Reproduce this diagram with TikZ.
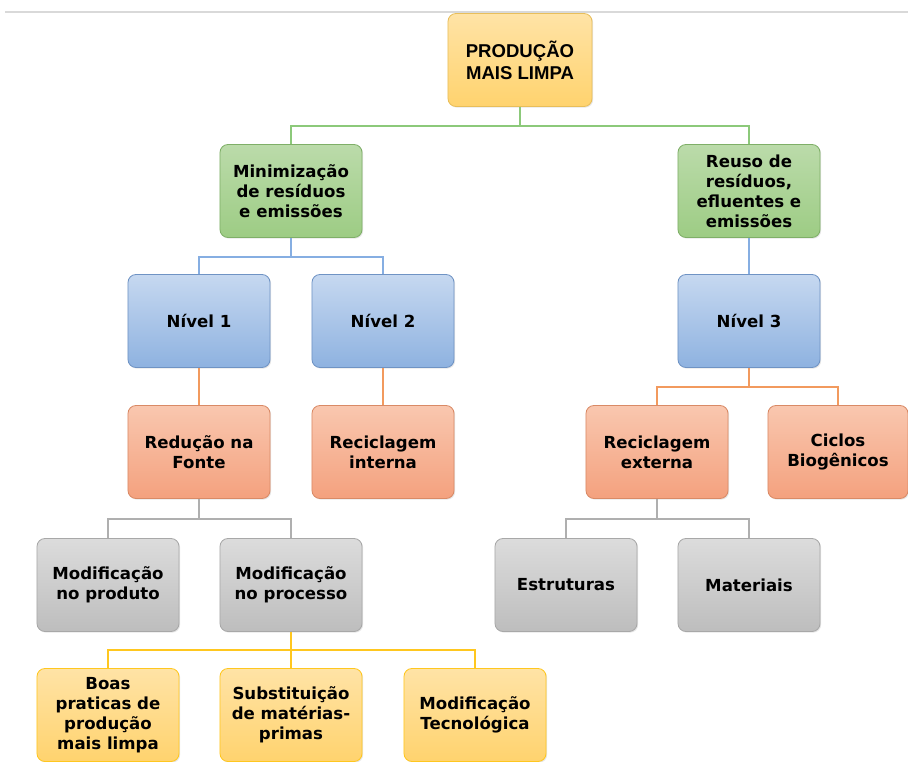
\documentclass[tikz,border=0pt]{standalone}
\usepackage{fontspec}
\setmainfont{DejaVu Sans}
\newfontfamily\headfont{Liberation Sans}
\usetikzlibrary{shadows}

\definecolor{ytop}{HTML}{FFE3A6}
\definecolor{ybot}{HTML}{FFD36E}
\definecolor{yedge}{HTML}{E8BE5A}
\definecolor{gtop}{HTML}{BBDBAA}
\definecolor{gbot}{HTML}{9DCC84}
\definecolor{gedge}{HTML}{7FAF68}
\definecolor{btop}{HTML}{C6D8F0}
\definecolor{bbot}{HTML}{8EB2E0}
\definecolor{bedge}{HTML}{6F93C4}
\definecolor{otop}{HTML}{F9C7AF}
\definecolor{obot}{HTML}{F4A17E}
\definecolor{oedge}{HTML}{D98A66}
\definecolor{stop}{HTML}{DCDCDC}
\definecolor{sbot}{HTML}{BDBDBD}
\definecolor{sedge}{HTML}{A8A8A8}
\definecolor{glinecol}{HTML}{8CC97A}
\definecolor{blinecol}{HTML}{86AEE2}
\definecolor{olinecol}{HTML}{F29A5E}
\definecolor{slinecol}{HTML}{AFAFAF}
\definecolor{ylinecol}{HTML}{FFC71F}

\tikzset{
	cbox/.style={rectangle, rounded corners=0.2cm, minimum width=3.55cm, minimum height=2.325cm,
		align=center, font=\bfseries\fontsize{11.8}{14.2}\selectfont, line width=0.6pt,
		drop shadow={opacity=0.2, shadow xshift=0.8pt, shadow yshift=-0.8pt}},
	yellowbox/.style={cbox, draw=yedge, top color=ytop, bottom color=ybot},
	greenbox/.style={cbox, draw=gedge, top color=gtop, bottom color=gbot},
	bluebox/.style={cbox, draw=bedge, top color=btop, bottom color=bbot},
	orangebox/.style={cbox, draw=oedge, top color=otop, bottom color=obot},
	graybox/.style={cbox, draw=sedge, top color=stop, bottom color=sbot},
	gline/.style={draw=glinecol, line width=1pt},
	bline/.style={draw=blinecol, line width=1pt},
	oline/.style={draw=olinecol, line width=1pt},
	sline/.style={draw=slinecol, line width=1pt},
	yline/.style={draw=ylinecol, line width=1pt},
}

\begin{document}
\begin{tikzpicture}[x=0.025cm,y=-0.025cm]
	\useasboundingbox (0,0) rectangle (908,762);
	\draw[line width=1.5pt, color=black!15] (5,12) -- (908,12);

	% level 0
	\node[yellowbox, minimum width=3.6cm, font=\headfont\bfseries\fontsize{13.2}{15.5}\selectfont] (prod) at (520,60) {PRODUÇÃO\\MAIS LIMPA};

	% level 1
	\node[greenbox] (minim) at (291,191) {Minimização\\de resíduos\\e emissões};
	\node[greenbox] (reuso) at (749,191) {Reuso de\\resíduos,\\efluentes e\\emissões};

	% level 2
	\node[bluebox] (niv1) at (199,321) {Nível 1};
	\node[bluebox] (niv2) at (383,321) {Nível 2};
	\node[bluebox] (niv3) at (749,321) {Nível 3};

	% level 3
	\node[orangebox] (reducao) at (199,452) {Redução na\\Fonte};
	\node[orangebox] (recint) at (383,452) {Reciclagem\\interna};
	\node[orangebox] (recext) at (657,452) {Reciclagem\\externa};
	\node[orangebox, minimum width=3.5cm] (ciclos) at (838,452) {Ciclos\\Biogênicos};

	% level 4
	\node[graybox] (modprod) at (108,585) {Modificação\\no produto};
	\node[graybox] (modproc) at (291,585) {Modificação\\no processo};
	\node[graybox] (estrut) at (566,585) {Estruturas};
	\node[graybox] (mater) at (749,585) {Materiais};

	% level 5
	\node[yellowbox, draw=ylinecol] (boas) at (108,715) {Boas\\praticas de\\produção\\mais limpa};
	\node[yellowbox, draw=ylinecol] (subst) at (291,715) {Substituição\\de matérias-\\primas};
	\node[yellowbox, draw=ylinecol] (modtec) at (475,715) {Modificação\\Tecnológica};

	% connectors
	\draw[gline] (prod.south) -- ++(0,19) -| (minim.north);
	\draw[gline] (prod.south) -- ++(0,19) -| (reuso.north);
	\draw[bline] (minim.south) -- ++(0,19) -| (niv1.north);
	\draw[bline] (minim.south) -- ++(0,19) -| (niv2.north);
	\draw[bline] (reuso.south) -- (niv3.north);
	\draw[oline] (niv1.south) -- (reducao.north);
	\draw[oline] (niv2.south) -- (recint.north);
	\draw[oline] (niv3.south) -- ++(0,19) -| (recext.north);
	\draw[oline] (niv3.south) -- ++(0,19) -| (ciclos.north);
	\draw[sline] (reducao.south) -- ++(0,20) -| (modprod.north);
	\draw[sline] (reducao.south) -- ++(0,20) -| (modproc.north);
	\draw[sline] (recext.south) -- ++(0,20) -| (estrut.north);
	\draw[sline] (recext.south) -- ++(0,20) -| (mater.north);
	\draw[yline] (modproc.south) -- ++(0,18) -| (boas.north);
	\draw[yline] (modproc.south) -- ++(0,18) -| (subst.north);
	\draw[yline] (modproc.south) -- ++(0,18) -| (modtec.north);
\end{tikzpicture}
\end{document}
